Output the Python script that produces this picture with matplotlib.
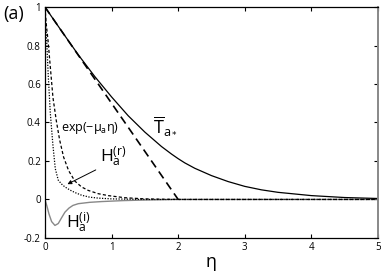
import matplotlib
matplotlib.use("Agg")
import matplotlib.pyplot as plt

plt.rcParams['font.family'] = ['Open Sans', 'DejaVu Sans']
plt.rcParams['mathtext.fontset'] = 'dejavusans'

# T_a* (solid)
eta_T = [0, 0.25, 0.5, 0.75, 1.0, 1.25, 1.5, 1.75, 1.9, 2.0, 2.1, 2.25, 2.5, 2.75, 3.0, 3.25, 3.5, 4.0, 4.5, 5.0]
T_vals = [1.0, 0.875, 0.752, 0.638, 0.533, 0.435, 0.35, 0.275, 0.236, 0.212, 0.19, 0.162, 0.124, 0.093, 0.068, 0.05, 0.037, 0.02, 0.01, 0.005]

# linear (long dashed)
eta_lin = [0, 2.0]
lin_vals = [1.0, 0.0]

# exp(-mu_a eta) (short dashed)
eta_exp = [0, 0.02, 0.045, 0.08, 0.12, 0.17, 0.22, 0.28, 0.355, 0.45, 0.55, 0.65, 0.8, 0.95, 1.2, 1.5, 2.0, 3.0, 4.0, 5.0]
exp_vals = [1.0, 0.91, 0.83, 0.69, 0.53, 0.41, 0.31, 0.22, 0.15, 0.095, 0.065, 0.047, 0.03, 0.02, 0.009, 0.003, 0.0, 0.0, 0.0, 0.0]

# H_a^(r) (dotted)
eta_Hr = [0, 0.01, 0.025, 0.05, 0.08, 0.12, 0.155, 0.2, 0.25, 0.3, 0.38, 0.45, 0.55, 0.67, 0.8, 1.0, 1.5, 2.0, 3.0, 4.0, 5.0]
Hr_vals = [1.0, 0.92, 0.83, 0.64, 0.45, 0.28, 0.16, 0.1, 0.08, 0.065, 0.048, 0.036, 0.022, 0.012, 0.007, 0.003, 0.0, 0.0, 0.0, 0.0, 0.0]

# H_a^(i) (gray solid)
eta_Hi = [0, 0.03, 0.06, 0.1, 0.15, 0.2, 0.25, 0.3, 0.36, 0.42, 0.5, 0.67, 0.85, 1.17, 1.5, 2.0, 3.0, 4.0, 5.0]
Hi_vals = [0.0, -0.035, -0.075, -0.115, -0.135, -0.125, -0.095, -0.066, -0.045, -0.031, -0.022, -0.015, -0.011, -0.006, -0.003, 0.0, 0.0, 0.0, 0.0]

x_ticks = [0, 1, 2, 3, 4, 5]
y_ticks = [-0.2, 0, 0.2, 0.4, 0.6, 0.8, 1]
y_ticklabels = ['-0.2', '0', '0.2', '0.4', '0.6', '0.8', '1']

fig = plt.figure(figsize=(3.81, 2.71), dpi=100)
ax = fig.add_axes([0.118, 0.122, 0.874, 0.852])

ax.plot(eta_Hi, Hi_vals, color='#888888', lw=1.0)
ax.plot(eta_Hr, Hr_vals, color='black', lw=0.9, linestyle=(0, (1, 1.2)))
ax.plot(eta_exp, exp_vals, color='black', lw=0.9, linestyle=(0, (2.5, 1.8)))
ax.plot(eta_lin, lin_vals, color='black', lw=1.2, linestyle=(0, (5, 3)))
ax.plot(eta_T, T_vals, color='black', lw=0.9)

ax.set_xlim(0, 5)
ax.set_ylim(-0.2, 1)
ax.set_xticks(x_ticks)
ax.set_yticks(y_ticks)
ax.set_yticklabels(y_ticklabels)
ax.tick_params(direction='in', length=3, width=0.8, labelsize=7, top=True, right=True, pad=3)
for sp in ax.spines.values():
    sp.set_linewidth(0.9)
ax.spines['right'].set_color('#888888')
ax.spines['right'].set_linewidth(1.4)

ax.set_xlabel('η', fontsize=13, labelpad=0)

ax.text(0.24, 0.37, r'$\mathregular{exp(-μ_a η)}$', fontsize=9, va='center', ha='left')
ax.text(1.62, 0.385, r'$\overline{\mathregular{T}}_{\mathregular{a}_*}$', fontsize=13, va='center', ha='left')
ax.text(0.82, 0.22, r'$\mathregular{H_a^{(r)}}$', fontsize=12.5, va='center', ha='left')
ax.text(0.32, -0.12, r'$\mathregular{H_a^{(i)}}$', fontsize=12.5, va='center', ha='left')
ax.annotate('', xy=(0.3, 0.073), xytext=(0.8, 0.16),
            arrowprops=dict(arrowstyle='-|>', color='black', lw=0.7, mutation_scale=6))

fig.text(0.008, 0.948, '(a)', fontsize=13, va='center', ha='left')

fig.savefig('out.png', dpi=100)
